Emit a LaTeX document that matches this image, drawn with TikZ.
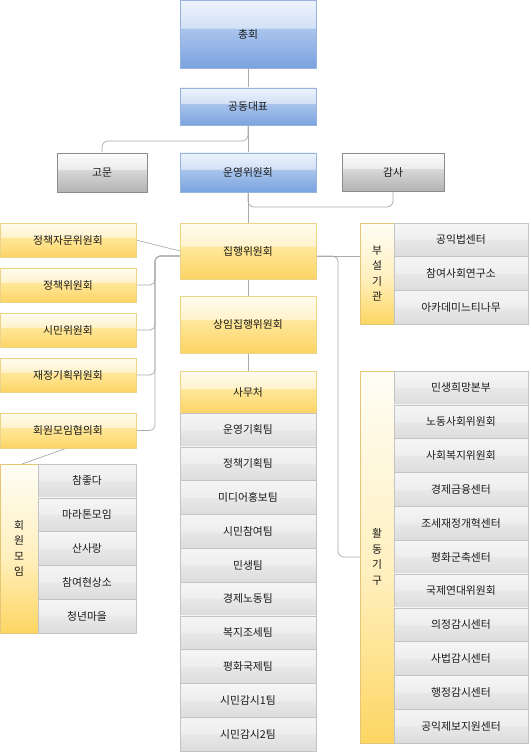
\documentclass[tikz,border=0pt]{standalone}
\usepackage{fontspec}
\setmainfont{Noto Sans CJK KR}
\usetikzlibrary{shadows}
\definecolor{bT}{HTML}{EDF3FC}\definecolor{bM1}{HTML}{D3E1F6}\definecolor{bM2}{HTML}{AAC5ED}\definecolor{bB}{HTML}{7AA3DF}\definecolor{bL}{HTML}{98B3DC}
\definecolor{yT}{HTML}{FFFCF0}\definecolor{yM1}{HTML}{FFF3CC}\definecolor{yM2}{HTML}{FFE89C}\definecolor{yB}{HTML}{FCD464}\definecolor{yL}{HTML}{ECD38A}
\definecolor{gT}{HTML}{FCFCFC}\definecolor{gM1}{HTML}{EDEDED}\definecolor{gM2}{HTML}{D8D8D8}\definecolor{gB}{HTML}{B3B3B3}\definecolor{gL}{HTML}{8C8C8C}
\definecolor{rT}{HTML}{F5F5F5}\definecolor{rM1}{HTML}{EEEEEE}\definecolor{rM2}{HTML}{E8E8E8}\definecolor{rB}{HTML}{DCDCDC}\definecolor{rL}{HTML}{C4C4C4}
\definecolor{lT}{HTML}{FFFEF6}\definecolor{lM}{HTML}{FFF0BF}\definecolor{lB}{HTML}{FDD662}\definecolor{lL}{HTML}{E3C676}
\definecolor{txt}{HTML}{1A1A1A}\definecolor{cn}{HTML}{AAAAAA}
\pgfdeclareverticalshading{blueg}{100bp}{color(0bp)=(bB); color(25bp)=(bB); color(54bp)=(bM2); color(54.5bp)=(bM1); color(75bp)=(bT); color(100bp)=(bT)}
\pgfdeclareverticalshading{yellowg}{100bp}{color(0bp)=(yB); color(25bp)=(yB); color(54bp)=(yM2); color(54.5bp)=(yM1); color(75bp)=(yT); color(100bp)=(yT)}
\pgfdeclareverticalshading{grayg}{100bp}{color(0bp)=(gB); color(25bp)=(gB); color(54bp)=(gM2); color(54.5bp)=(gM1); color(75bp)=(gT); color(100bp)=(gT)}
\pgfdeclareverticalshading{rowg}{100bp}{color(0bp)=(rB); color(25bp)=(rB); color(50bp)=(rM2); color(50.5bp)=(rM1); color(75bp)=(rT); color(100bp)=(rT)}
\pgfdeclareverticalshading{labelg}{100bp}{color(0bp)=(lB); color(25bp)=(lB); color(48bp)=(lM); color(75bp)=(lT); color(100bp)=(lT)}
\tikzset{
  base/.style={outer sep=0pt, inner sep=0pt, text=txt, font=\fontsize{10.8}{12}\selectfont,
    drop shadow={shadow xshift=1.3pt, shadow yshift=-1.3pt, opacity=0.2}},
  bluebox/.style={base, draw=bL, shade, shading=blueg, minimum width=136pt},
  yellowbox/.style={base, draw=yL, shade, shading=yellowg},
  graybox/.style={base, draw=gL, shade, shading=grayg},
  rowbox/.style={base, draw=rL, shade, shading=rowg},
  labelbox/.style={base, draw=lL, shade, shading=labelg, align=center, font=\fontsize{10.8}{15.5}\selectfont},
  conn/.style={draw=cn, line width=0.7pt},
}
\begin{document}
\begin{tikzpicture}[x=1pt,y=-1pt]
\useasboundingbox (0,0) rectangle (530,754);
% coordinates for connectors
\coordinate (g1) at (248,141); \coordinate (g2) at (102,141);
\coordinate (s1) at (248,207); \coordinate (s2) at (393,207);
\coordinate (jL) at (180,256); \coordinate (vt) at (155,256);
\coordinate (jR) at (316,256); \coordinate (r1) at (338,256); \coordinate (r2) at (338,557);
\coordinate (m1) at (67,448); \coordinate (m2) at (22,464);
% connectors drawn first
\draw[conn] (248,68) -- (248,88);
\draw[conn] (248,125) -- (248,153);
\draw[conn, rounded corners=6pt] (248,125) -- (g1) -- (g2) -- (102,153);
\draw[conn] (248,192) -- (248,223);
\draw[conn, rounded corners=6pt] (248,192) -- (s1) -- (s2) -- (393,191);
\draw[conn] (248,279) -- (248,296);
\draw[conn] (248,353) -- (248,371);
\draw[conn] (136,240) -- (180,251);
\foreach \yy in {285,330,375,430.5}{
  \draw[conn, rounded corners=5pt] (136,\yy) -- (155,\yy) -- (vt) -- (jL);
}
\draw[conn] (m1) -- (m2);
\draw[conn] (jR) -- (360,256);
\draw[conn, rounded corners=6pt] (jR) -- (r1) -- (r2) -- (360,557);
% top
\node[bluebox, minimum height=68pt] (zh) at (248,34) {총회};
\node[bluebox, minimum height=37pt] (gd) at (248,106.5) {공동대표};
\node[graybox, minimum width=90pt, minimum height=39pt] (gm) at (102,172.5) {고문};
\node[bluebox, minimum height=39pt] (uy) at (248,172.5) {운영위원회};
\node[graybox, minimum width=102pt, minimum height=38pt] (gs) at (393,172) {감사};
% center column
\node[yellowbox, minimum width=136pt, minimum height=56pt] (jh) at (248,251) {집행위원회};
\node[yellowbox, minimum width=136pt, minimum height=57pt] (sj) at (248,324.5) {상임집행위원회};
\node[yellowbox, minimum width=136pt, minimum height=42pt] (smc) at (248,392) {사무처};
\foreach \t [count=\i] in {운영기획팀,정책기획팀,미디어홍보팀,시민참여팀,민생팀,경제노동팀,복지조세팀,평화국제팀,시민감시1팀,시민감시2팀}{
  \node[rowbox, minimum width=136pt, minimum height=33.8pt] (t\i) at (248,{413+33.8*(\i-0.5)}) {\t};
}
% left column
\node[yellowbox, minimum width=136pt, minimum height=34pt] (l1) at (68,240) {정책자문위원회};
\node[yellowbox, minimum width=136pt, minimum height=34pt] (l2) at (68,285) {정책위원회};
\node[yellowbox, minimum width=136pt, minimum height=34pt] (l3) at (68,330) {시민위원회};
\node[yellowbox, minimum width=136pt, minimum height=34pt] (l4) at (68,375) {재정기획위원회};
\node[yellowbox, minimum width=136pt, minimum height=35pt] (l5) at (68,430.5) {회원모임협의회};
\node[labelbox, minimum width=38pt, minimum height=169pt] (hm) at (19,548.5) {회\\원\\모\\임};
\foreach \t [count=\i] in {참좋다,마라톤모임,산사랑,참여현상소,청년마을}{
  \node[rowbox, minimum width=98pt, minimum height=33.8pt] (m\i) at (87,{464+33.8*(\i-0.5)}) {\t};
}
% right column
\node[labelbox, minimum width=34pt, minimum height=101pt] (bs) at (377,273.5) {부\\설\\기\\관};
\foreach \t [count=\i] in {공익법센터,참여사회연구소,아카데미느티나무}{
  \node[rowbox, minimum width=134pt, minimum height=33.67pt] (b\i) at (461,{223+33.67*(\i-0.5)}) {\t};
}
\node[labelbox, minimum width=34pt, minimum height=372pt] (hd) at (377,557) {활\\동\\기\\구};
\foreach \t [count=\i] in {민생희망본부,노동사회위원회,사회복지위원회,경제금융센터,조세재정개혁센터,평화군축센터,국제연대위원회,의정감시센터,사법감시센터,행정감시센터,공익제보지원센터}{
  \node[rowbox, minimum width=134pt, minimum height=33.82pt] (h\i) at (461,{371+33.82*(\i-0.5)}) {\t};
}
\end{tikzpicture}
\end{document}
